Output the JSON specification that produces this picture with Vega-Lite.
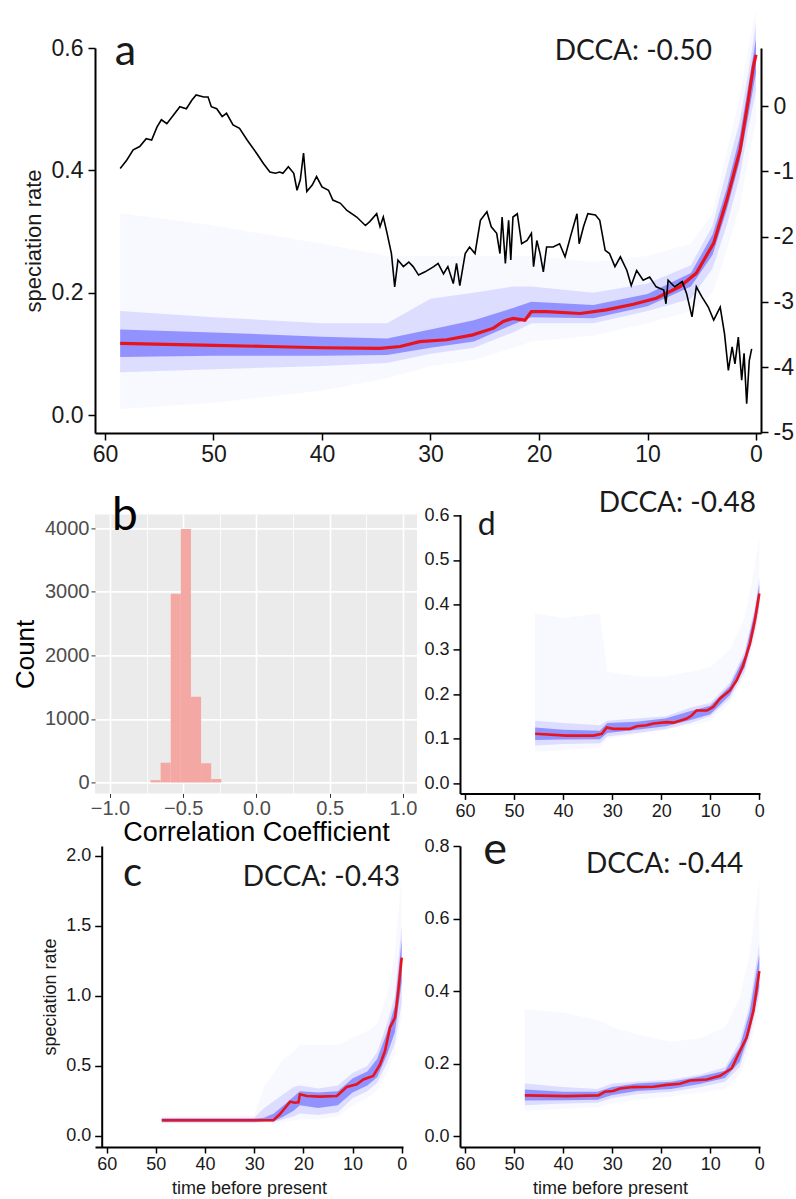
{
"$schema": "https://vega.github.io/schema/vega-lite/v6.json",
"padding": {"left": 12, "top": 11, "right": 0, "bottom": 0},
"background": "white",
"config": {
  "view": {"stroke": null},
  "axis": {"grid": false, "labelFont": "Liberation Sans", "titleFont": "Liberation Sans", "domainColor": "#000", "tickColor": "#000", "labelColor": "#1a1a1a", "titleColor": "#1a1a1a", "titleFontWeight": "normal", "labelFlush": false, "labelOverlap": false, "labelBound": false},
  "text": {"font": "Lato", "color": "#1a1a1a"}
},
"datasets": {
  "aTemp": [
    {"t":58.6,"v":-0.955},{"t":58.0,"v":-0.83},{"t":57.4,"v":-0.67},{"t":56.8,"v":-0.62},{"t":56.2,"v":-0.50},{"t":55.7,"v":-0.52},{"t":55.2,"v":-0.32},{"t":54.8,"v":-0.21},{"t":54.3,"v":-0.27},{"t":53.7,"v":-0.14},{"t":53.1,"v":-0.01},{"t":52.5,"v":-0.04},{"t":52.0,"v":0.09},{"t":51.6,"v":0.17},{"t":50.9,"v":0.14},{"t":50.5,"v":0.14},{"t":50.2,"v":-0.01},{"t":49.7,"v":-0.04},{"t":49.2,"v":-0.16},{"t":48.8,"v":-0.11},{"t":48.2,"v":-0.29},{"t":47.6,"v":-0.34},{"t":46.9,"v":-0.52},{"t":46.0,"v":-0.73},{"t":45.4,"v":-0.88},{"t":44.8,"v":-1.01},{"t":44.3,"v":-1.03},{"t":43.9,"v":-1.01},{"t":43.6,"v":-1.03},{"t":43.1,"v":-0.93},{"t":42.6,"v":-1.03},{"t":42.3,"v":-1.29},{"t":42.0,"v":-1.13},{"t":41.7,"v":-0.72},{"t":41.4,"v":-1.31},{"t":40.9,"v":-1.21},{"t":40.5,"v":-1.08},{"t":40.0,"v":-1.24},{"t":39.4,"v":-1.29},{"t":39.0,"v":-1.44},{"t":38.3,"v":-1.49},{"t":37.7,"v":-1.60},{"t":36.8,"v":-1.70},{"t":36.0,"v":-1.83},{"t":35.6,"v":-1.77},{"t":34.96,"v":-1.65},{"t":34.65,"v":-1.85},{"t":34.35,"v":-1.70},{"t":34.0,"v":-1.95},{"t":33.6,"v":-2.26},{"t":33.3,"v":-2.77},{"t":33.0,"v":-2.36},{"t":32.5,"v":-2.46},{"t":32.0,"v":-2.39},{"t":31.6,"v":-2.46},{"t":31.1,"v":-2.59},{"t":30.5,"v":-2.54},{"t":29.7,"v":-2.46},{"t":29.3,"v":-2.41},{"t":28.8,"v":-2.57},{"t":28.4,"v":-2.46},{"t":27.9,"v":-2.72},{"t":27.6,"v":-2.41},{"t":27.3,"v":-2.75},{"t":26.8,"v":-2.26},{"t":26.4,"v":-2.16},{"t":25.9,"v":-2.26},{"t":25.4,"v":-1.75},{"t":24.8,"v":-1.62},{"t":24.4,"v":-1.85},{"t":23.9,"v":-1.95},{"t":23.6,"v":-2.26},{"t":23.4,"v":-1.70},{"t":23.1,"v":-2.41},{"t":22.8,"v":-1.75},{"t":22.6,"v":-2.36},{"t":22.4,"v":-1.70},{"t":22.0,"v":-1.65},{"t":21.6,"v":-2.11},{"t":21.1,"v":-2.06},{"t":20.7,"v":-1.95},{"t":20.5,"v":-2.46},{"t":20.2,"v":-2.06},{"t":19.9,"v":-2.26},{"t":19.6,"v":-2.54},{"t":19.3,"v":-2.16},{"t":18.7,"v":-2.16},{"t":18.1,"v":-2.11},{"t":17.6,"v":-2.31},{"t":17.1,"v":-2.00},{"t":16.5,"v":-1.65},{"t":16.3,"v":-2.11},{"t":15.9,"v":-1.85},{"t":15.5,"v":-1.65},{"t":14.8,"v":-1.67},{"t":14.4,"v":-1.75},{"t":13.9,"v":-2.21},{"t":13.5,"v":-2.26},{"t":13.0,"v":-2.46},{"t":12.5,"v":-2.31},{"t":11.9,"v":-2.52},{"t":11.5,"v":-2.75},{"t":11.0,"v":-2.52},{"t":10.4,"v":-2.67},{"t":9.8,"v":-2.62},{"t":9.2,"v":-2.77},{"t":8.5,"v":-2.82},{"t":8.3,"v":-3.03},{"t":8.1,"v":-2.67},{"t":7.5,"v":-2.77},{"t":6.8,"v":-2.69},{"t":6.4,"v":-2.87},{"t":5.9,"v":-3.23},{"t":5.5,"v":-2.77},{"t":5.0,"v":-2.92},{"t":4.4,"v":-3.08},{"t":3.9,"v":-3.28},{"t":3.3,"v":-3.08},{"t":2.9,"v":-3.49},{"t":2.55,"v":-4.05},{"t":2.2,"v":-3.69},{"t":1.94,"v":-3.95},{"t":1.63,"v":-3.54},{"t":1.32,"v":-4.20},{"t":1.1,"v":-3.79},{"t":0.86,"v":-4.56},{"t":0.62,"v":-3.90},{"t":0.4,"v":-3.72}
  ],
  "aRate": [
    {"t":58.6,"v":0.117},{"t":50,"v":0.114},{"t":45,"v":0.112},{"t":40,"v":0.110},{"t":34.65,"v":0.109},{"t":32.8,"v":0.112},{"t":31.0,"v":0.120},{"t":28.5,"v":0.123},{"t":26.1,"v":0.131},{"t":24.2,"v":0.142},{"t":23.3,"v":0.153},{"t":22.4,"v":0.158},{"t":21.3,"v":0.155},{"t":20.7,"v":0.169},{"t":19.3,"v":0.169},{"t":16.2,"v":0.166},{"t":13.8,"v":0.172},{"t":11.3,"v":0.181},{"t":9.2,"v":0.191},{"t":7.0,"v":0.210},{"t":5.5,"v":0.232},{"t":3.9,"v":0.281},{"t":2.7,"v":0.351},{"t":1.47,"v":0.433},{"t":0.71,"v":0.515},{"t":0.25,"v":0.569},{"t":0,"v":0.589}
  ],
  "aBand": [
    {"t":58.6,"fl":0.01,"fh":0.33,"ml":0.07,"mh":0.17,"cl":0.095,"ch":0.14},
    {"t":50,"fl":0.02,"fh":0.31,"ml":0.075,"mh":0.16,"cl":0.097,"ch":0.135},
    {"t":40,"fl":0.04,"fh":0.28,"ml":0.08,"mh":0.15,"cl":0.097,"ch":0.128},
    {"t":34,"fl":0.06,"fh":0.26,"ml":0.085,"mh":0.15,"cl":0.098,"ch":0.125},
    {"t":30,"fl":0.08,"fh":0.26,"ml":0.10,"mh":0.19,"cl":0.11,"ch":0.14},
    {"t":26,"fl":0.09,"fh":0.26,"ml":0.11,"mh":0.20,"cl":0.12,"ch":0.155},
    {"t":22.4,"fl":0.11,"fh":0.26,"ml":0.135,"mh":0.21,"cl":0.148,"ch":0.175},
    {"t":20.7,"fl":0.12,"fh":0.26,"ml":0.15,"mh":0.21,"cl":0.16,"ch":0.185},
    {"t":15,"fl":0.13,"fh":0.25,"ml":0.15,"mh":0.20,"cl":0.158,"ch":0.18},
    {"t":10,"fl":0.15,"fh":0.26,"ml":0.17,"mh":0.215,"cl":0.178,"ch":0.198},
    {"t":6,"fl":0.17,"fh":0.28,"ml":0.19,"mh":0.245,"cl":0.21,"ch":0.232},
    {"t":4,"fl":0.2,"fh":0.33,"ml":0.24,"mh":0.31,"cl":0.262,"ch":0.295},
    {"t":2.7,"fl":0.27,"fh":0.43,"ml":0.31,"mh":0.40,"cl":0.335,"ch":0.37},
    {"t":1.5,"fl":0.34,"fh":0.52,"ml":0.39,"mh":0.48,"cl":0.415,"ch":0.455},
    {"t":0.7,"fl":0.42,"fh":0.6,"ml":0.47,"mh":0.56,"cl":0.49,"ch":0.54},
    {"t":0,"fl":0.48,"fh":0.66,"ml":0.53,"mh":0.64,"cl":0.56,"ch":0.615}
  ],
  "hist": [
    {"lo":-0.723,"hi":-0.654,"count":35},
    {"lo":-0.654,"hi":-0.585,"count":310},
    {"lo":-0.585,"hi":-0.516,"count":2970},
    {"lo":-0.516,"hi":-0.447,"count":3990},
    {"lo":-0.447,"hi":-0.378,"count":1350},
    {"lo":-0.378,"hi":-0.309,"count":300},
    {"lo":-0.309,"hi":-0.240,"count":55}
  ],
  "dRate": [
    {"t":45.7,"v":0.111},{"t":39.3,"v":0.107},{"t":33.8,"v":0.107},{"t":32.1,"v":0.111},{"t":31.1,"v":0.125},{"t":29.8,"v":0.122},{"t":26.4,"v":0.122},{"t":25.0,"v":0.128},{"t":23.0,"v":0.130},{"t":21.6,"v":0.134},{"t":18.9,"v":0.137},{"t":17.5,"v":0.136},{"t":14.8,"v":0.145},{"t":13.8,"v":0.152},{"t":12.8,"v":0.163},{"t":10.7,"v":0.163},{"t":9.4,"v":0.171},{"t":8.0,"v":0.190},{"t":6.0,"v":0.208},{"t":4.6,"v":0.231},{"t":3.3,"v":0.264},{"t":1.9,"v":0.313},{"t":0.9,"v":0.365},{"t":0,"v":0.425}
  ],
  "dBand": [
    {"t":45.7,"fl":0.07,"fh":0.38,"ml":0.085,"mh":0.14,"cl":0.097,"ch":0.125},
    {"t":40,"fl":0.075,"fh":0.37,"ml":0.088,"mh":0.135,"cl":0.098,"ch":0.12},
    {"t":32.5,"fl":0.08,"fh":0.38,"ml":0.09,"mh":0.13,"cl":0.099,"ch":0.118},
    {"t":31,"fl":0.1,"fh":0.25,"ml":0.105,"mh":0.14,"cl":0.113,"ch":0.135},
    {"t":25,"fl":0.11,"fh":0.24,"ml":0.113,"mh":0.145,"cl":0.12,"ch":0.138},
    {"t":19,"fl":0.12,"fh":0.24,"ml":0.122,"mh":0.15,"cl":0.128,"ch":0.146},
    {"t":14,"fl":0.13,"fh":0.25,"ml":0.135,"mh":0.17,"cl":0.142,"ch":0.162},
    {"t":10,"fl":0.14,"fh":0.26,"ml":0.15,"mh":0.18,"cl":0.155,"ch":0.174},
    {"t":6,"fl":0.18,"fh":0.3,"ml":0.19,"mh":0.225,"cl":0.198,"ch":0.218},
    {"t":3,"fl":0.24,"fh":0.37,"ml":0.25,"mh":0.295,"cl":0.26,"ch":0.285},
    {"t":1,"fl":0.32,"fh":0.48,"ml":0.335,"mh":0.39,"cl":0.345,"ch":0.38},
    {"t":0,"fl":0.38,"fh":0.55,"ml":0.39,"mh":0.46,"cl":0.405,"ch":0.445}
  ],
  "cRate": [
    {"t":48.8,"v":0.112},{"t":41.0,"v":0.112},{"t":26.1,"v":0.112},{"t":24.8,"v":0.155},{"t":23.7,"v":0.202},{"t":22.7,"v":0.245},{"t":21.7,"v":0.238},{"t":21.0,"v":0.240},{"t":20.7,"v":0.298},{"t":19.3,"v":0.286},{"t":16.6,"v":0.281},{"t":13.2,"v":0.286},{"t":11.2,"v":0.35},{"t":9.15,"v":0.369},{"t":7.8,"v":0.404},{"t":5.8,"v":0.429},{"t":4.4,"v":0.512},{"t":3.4,"v":0.607},{"t":2.4,"v":0.774},{"t":1.36,"v":0.845},{"t":0.69,"v":1.036},{"t":0,"v":1.274}
  ],
  "cBand": [
    {"t":48.8,"fl":0.09,"fh":0.14,"ml":0.095,"mh":0.13,"cl":0.1,"ch":0.125},
    {"t":30,"fl":0.09,"fh":0.15,"ml":0.095,"mh":0.13,"cl":0.1,"ch":0.125},
    {"t":28,"fl":0.09,"fh":0.35,"ml":0.1,"mh":0.2,"cl":0.105,"ch":0.13},
    {"t":26,"fl":0.09,"fh":0.45,"ml":0.1,"mh":0.25,"cl":0.105,"ch":0.16},
    {"t":24,"fl":0.1,"fh":0.55,"ml":0.12,"mh":0.3,"cl":0.14,"ch":0.22},
    {"t":22,"fl":0.11,"fh":0.6,"ml":0.14,"mh":0.35,"cl":0.18,"ch":0.28},
    {"t":20.7,"fl":0.12,"fh":0.65,"ml":0.16,"mh":0.36,"cl":0.22,"ch":0.32},
    {"t":17,"fl":0.12,"fh":0.65,"ml":0.15,"mh":0.34,"cl":0.2,"ch":0.31},
    {"t":13,"fl":0.14,"fh":0.65,"ml":0.17,"mh":0.36,"cl":0.22,"ch":0.32},
    {"t":10,"fl":0.22,"fh":0.7,"ml":0.27,"mh":0.45,"cl":0.31,"ch":0.41},
    {"t":7,"fl":0.27,"fh":0.75,"ml":0.32,"mh":0.5,"cl":0.36,"ch":0.46},
    {"t":5,"fl":0.33,"fh":0.8,"ml":0.38,"mh":0.6,"cl":0.42,"ch":0.55},
    {"t":3,"fl":0.45,"fh":1.0,"ml":0.52,"mh":0.8,"cl":0.58,"ch":0.74},
    {"t":1.4,"fl":0.6,"fh":1.3,"ml":0.66,"mh":1.0,"cl":0.74,"ch":0.93},
    {"t":0,"fl":0.85,"fh":1.85,"ml":0.95,"mh":1.5,"cl":1.1,"ch":1.4}
  ],
  "eRate": [
    {"t":47.8,"v":0.112},{"t":39.3,"v":0.110},{"t":32.8,"v":0.112},{"t":31.5,"v":0.122},{"t":29.8,"v":0.124},{"t":28.4,"v":0.131},{"t":25.7,"v":0.135},{"t":21.6,"v":0.136},{"t":18.9,"v":0.141},{"t":16.2,"v":0.144},{"t":14.1,"v":0.153},{"t":10.7,"v":0.156},{"t":8.0,"v":0.166},{"t":5.6,"v":0.187},{"t":4.3,"v":0.225},{"t":2.6,"v":0.271},{"t":1.2,"v":0.345},{"t":0,"v":0.455}
  ],
  "eBand": [
    {"t":47.8,"fl":0.07,"fh":0.35,"ml":0.085,"mh":0.145,"cl":0.098,"ch":0.128},
    {"t":40,"fl":0.075,"fh":0.34,"ml":0.09,"mh":0.135,"cl":0.099,"ch":0.122},
    {"t":33,"fl":0.08,"fh":0.32,"ml":0.092,"mh":0.13,"cl":0.1,"ch":0.122},
    {"t":30,"fl":0.09,"fh":0.3,"ml":0.105,"mh":0.145,"cl":0.113,"ch":0.135},
    {"t":25,"fl":0.1,"fh":0.28,"ml":0.115,"mh":0.15,"cl":0.124,"ch":0.145},
    {"t":18,"fl":0.11,"fh":0.26,"ml":0.122,"mh":0.155,"cl":0.13,"ch":0.15},
    {"t":12,"fl":0.12,"fh":0.27,"ml":0.135,"mh":0.17,"cl":0.144,"ch":0.164},
    {"t":7,"fl":0.13,"fh":0.3,"ml":0.15,"mh":0.19,"cl":0.16,"ch":0.18},
    {"t":4,"fl":0.17,"fh":0.38,"ml":0.19,"mh":0.26,"cl":0.205,"ch":0.245},
    {"t":2,"fl":0.24,"fh":0.5,"ml":0.27,"mh":0.36,"cl":0.285,"ch":0.34},
    {"t":0,"fl":0.36,"fh":0.7,"ml":0.39,"mh":0.53,"cl":0.41,"ch":0.5}
  ]
},
"spacing": -18,
"vconcat": [
 {
  "spacing": 23.4,
  "vconcat": [
   {
    "width": 666, "height": 385,
    "layer": [
     {
      "layer": [
       {"data": {"name": "aBand"}, "mark": {"type": "area", "color": "#f2f2ff", "opacity": 0.5}, "encoding": {
         "x": {"field": "t", "type": "quantitative", "scale": {"domain": [-0.46, 60.92], "reverse": true, "nice": false, "zero": false}, "axis": {"values": [60,50,40,30,20,10,0], "title": null, "tickSize": 7, "tickWidth": 1.5, "domainWidth": 2, "labelFontSize": 23, "labelPadding": 3}},
         "y": {"field": "fl", "type": "quantitative", "scale": {"domain": [-0.0294, 0.6], "nice": false, "zero": false}, "axis": {"values": [0, 0.2, 0.4, 0.6], "format": ".1f", "title": "speciation rate", "titleFontSize": 22, "titlePadding": 6, "tickSize": 7, "tickWidth": 1.5, "domainWidth": 2, "labelFontSize": 23, "labelPadding": 5}},
         "y2": {"field": "fh"}}},
       {"data": {"name": "aBand"}, "mark": {"type": "area", "color": "#a0a0ff", "opacity": 0.3}, "encoding": {
         "x": {"field": "t", "type": "quantitative", "scale": {"domain": [-0.46, 60.92], "reverse": true, "nice": false, "zero": false}, "axis": {"values": [60,50,40,30,20,10,0], "title": null, "tickSize": 7, "tickWidth": 1.5, "domainWidth": 2, "labelFontSize": 23, "labelPadding": 3}},
         "y": {"field": "ml", "type": "quantitative", "scale": {"domain": [-0.0294, 0.6], "nice": false, "zero": false}, "axis": {"values": [0, 0.2, 0.4, 0.6], "format": ".1f", "title": "speciation rate", "titleFontSize": 22, "titlePadding": 6, "tickSize": 7, "tickWidth": 1.5, "domainWidth": 2, "labelFontSize": 23, "labelPadding": 5}},
         "y2": {"field": "mh"}}},
       {"data": {"name": "aBand"}, "mark": {"type": "area", "color": "#4848ff", "opacity": 0.5}, "encoding": {
         "x": {"field": "t", "type": "quantitative", "scale": {"domain": [-0.46, 60.92], "reverse": true, "nice": false, "zero": false}, "axis": {"values": [60,50,40,30,20,10,0], "title": null, "tickSize": 7, "tickWidth": 1.5, "domainWidth": 2, "labelFontSize": 23, "labelPadding": 3}},
         "y": {"field": "cl", "type": "quantitative", "scale": {"domain": [-0.0294, 0.6], "nice": false, "zero": false}, "axis": {"values": [0, 0.2, 0.4, 0.6], "format": ".1f", "title": "speciation rate", "titleFontSize": 22, "titlePadding": 6, "tickSize": 7, "tickWidth": 1.5, "domainWidth": 2, "labelFontSize": 23, "labelPadding": 5}},
         "y2": {"field": "ch"}}},
       {"data": {"name": "aRate"}, "mark": {"type": "line", "color": "#e8141c", "strokeWidth": 3.2}, "encoding": {
         "x": {"field": "t", "type": "quantitative", "scale": {"domain": [-0.46, 60.92], "reverse": true, "nice": false, "zero": false}, "axis": {"values": [60,50,40,30,20,10,0], "title": null, "tickSize": 7, "tickWidth": 1.5, "domainWidth": 2, "labelFontSize": 23, "labelPadding": 3}},
         "y": {"field": "v", "type": "quantitative", "scale": {"domain": [-0.0294, 0.6], "nice": false, "zero": false}, "axis": {"values": [0, 0.2, 0.4, 0.6], "format": ".1f", "title": "speciation rate", "titleFontSize": 22, "titlePadding": 6, "tickSize": 7, "tickWidth": 1.5, "domainWidth": 2, "labelFontSize": 23, "labelPadding": 5}}}},
       {"data": {"values": [{}]}, "mark": {"type": "text", "text": "a", "fontSize": 43, "align": "left", "baseline": "alphabetic"}, "encoding": {
         "x": {"datum": 59.1, "type": "quantitative", "scale": {"domain": [-0.46, 60.92], "reverse": true, "nice": false, "zero": false}, "axis": {"values": [60,50,40,30,20,10,0], "title": null, "tickSize": 7, "tickWidth": 1.5, "domainWidth": 2, "labelFontSize": 23, "labelPadding": 3}},
         "y": {"datum": 0.572, "type": "quantitative", "scale": {"domain": [-0.0294, 0.6], "nice": false, "zero": false}, "axis": {"values": [0, 0.2, 0.4, 0.6], "format": ".1f", "title": "speciation rate", "titleFontSize": 22, "titlePadding": 6, "tickSize": 7, "tickWidth": 1.5, "domainWidth": 2, "labelFontSize": 23, "labelPadding": 5}}}},
       {"data": {"values": [{}]}, "mark": {"type": "text", "text": "DCCA: -0.50", "fontSize": 28, "align": "right", "baseline": "alphabetic"}, "encoding": {
         "x": {"datum": 4.06, "type": "quantitative", "scale": {"domain": [-0.46, 60.92], "reverse": true, "nice": false, "zero": false}, "axis": {"values": [60,50,40,30,20,10,0], "title": null, "tickSize": 7, "tickWidth": 1.5, "domainWidth": 2, "labelFontSize": 23, "labelPadding": 3}},
         "y": {"datum": 0.58, "type": "quantitative", "scale": {"domain": [-0.0294, 0.6], "nice": false, "zero": false}, "axis": {"values": [0, 0.2, 0.4, 0.6], "format": ".1f", "title": "speciation rate", "titleFontSize": 22, "titlePadding": 6, "tickSize": 7, "tickWidth": 1.5, "domainWidth": 2, "labelFontSize": 23, "labelPadding": 5}}}}
      ]
     },
     {"data": {"name": "aTemp"}, "mark": {"type": "line", "color": "#000", "strokeWidth": 1.6}, "encoding": {
       "x": {"field": "t", "type": "quantitative", "scale": {"domain": [-0.46, 60.92], "reverse": true, "nice": false, "zero": false}, "axis": {"values": [60,50,40,30,20,10,0], "title": null, "tickSize": 7, "tickWidth": 1.5, "domainWidth": 2, "labelFontSize": 23, "labelPadding": 3}},
       "y": {"field": "v", "type": "quantitative", "scale": {"domain": [-5.01, 0.89], "nice": false, "zero": false}, "axis": {"orient": "right", "values": [0,-1,-2,-3,-4,-5], "labelExpr": "'' + datum.value", "title": null, "tickSize": 7, "tickWidth": 1.5, "domainWidth": 2, "labelFontSize": 23, "labelPadding": 5}}}}
    ],
    "resolve": {"scale": {"y": "independent"}}
   },
   {
    "bounds": "flush",
    "spacing": 43,
    "hconcat": [
     {
      "width": 322, "height": 279,
      "view": {"fill": "#EBEBEB", "stroke": null},
      "layer": [
       {"data": {"name": "hist"}, "mark": {"type": "bar", "color": "#F4A8A4"}, "encoding": {
         "x": {"field": "lo", "type": "quantitative", "scale": {"domain": [-1.102, 1.096], "nice": false, "zero": false}, "axis": {"values": [-1,-0.75,-0.5,-0.25,0,0.25,0.5,0.75,1], "format": ".1f", "labelExpr": "abs(datum.value*2 - round(datum.value*2)) > 0.001 ? '' : datum.label", "grid": true, "gridColor": "#ffffff", "gridWidth": {"condition": {"test": "abs(datum.value*2 - round(datum.value*2)) > 0.001", "value": 0.8}, "value": 1.6}, "domain": false, "tickColor": "#333333", "tickSize": 4, "tickOpacity": {"condition": {"test": "abs(datum.value*2 - round(datum.value*2)) > 0.001", "value": 0}, "value": 1}, "labelColor": "#4D4D4D", "labelFontSize": 20, "labelPadding": 1, "title": "Correlation Coefficient", "titleFontSize": 27, "titlePadding": 1, "titleColor": "#000"}},
         "x2": {"field": "hi"},
         "y": {"field": "count", "type": "quantitative", "scale": {"domain": [-173, 4220], "nice": false, "zero": false}, "axis": {"values": [0,500,1000,1500,2000,2500,3000,3500,4000], "format": "d", "labelExpr": "datum.value % 1000 != 0 ? '' : datum.label", "grid": true, "gridColor": "#ffffff", "gridWidth": {"condition": {"test": "datum.value % 1000 != 0", "value": 0.8}, "value": 1.6}, "domain": false, "tickColor": "#333333", "tickSize": 4, "tickOpacity": {"condition": {"test": "datum.value % 1000 != 0", "value": 0}, "value": 1}, "labelColor": "#4D4D4D", "labelFontSize": 20, "labelPadding": 2, "title": "Count", "titleFontSize": 26, "titlePadding": 6, "titleColor": "#000"}},
         "y2": {"datum": 0}
       }},
       {"data": {"values": [{}]}, "mark": {"type": "text", "text": "b", "fontSize": 46, "align": "left", "baseline": "alphabetic", "color": "#000"}, "encoding": {"x": {"datum": -0.986, "type": "quantitative"}, "y": {"datum": 3968, "type": "quantitative"}}}
      ]
     },
     {
      "width": 300, "height": 279,
      "layer": [
       {"data": {"name": "dBand"}, "mark": {"type": "area", "color": "#f2f2ff", "opacity": 0.5}, "encoding": {
         "x": {"field": "t", "type": "quantitative", "scale": {"domain": [-0.14, 61.02], "reverse": true, "nice": false, "zero": false}, "axis": {"values": [60,50,40,30,20,10,0], "title": null, "tickSize": 6, "tickWidth": 1.5, "domainWidth": 2, "labelFontSize": 18, "labelPadding": 3}},
         "y": {"field": "fl", "type": "quantitative", "scale": {"domain": [-0.0224, 0.602], "nice": false, "zero": false}, "axis": {"values": [0,0.1,0.2,0.3,0.4,0.5,0.6], "format": ".1f", "title": null, "tickSize": 7, "tickWidth": 1.5, "domainWidth": 2, "labelFontSize": 18, "labelPadding": 4}},
         "y2": {"field": "fh"}}},
       {"data": {"name": "dBand"}, "mark": {"type": "area", "color": "#a0a0ff", "opacity": 0.3}, "encoding": {
         "x": {"field": "t", "type": "quantitative", "scale": {"domain": [-0.14, 61.02], "reverse": true, "nice": false, "zero": false}, "axis": {"values": [60,50,40,30,20,10,0], "title": null, "tickSize": 6, "tickWidth": 1.5, "domainWidth": 2, "labelFontSize": 18, "labelPadding": 3}},
         "y": {"field": "ml", "type": "quantitative", "scale": {"domain": [-0.0224, 0.602], "nice": false, "zero": false}, "axis": {"values": [0,0.1,0.2,0.3,0.4,0.5,0.6], "format": ".1f", "title": null, "tickSize": 7, "tickWidth": 1.5, "domainWidth": 2, "labelFontSize": 18, "labelPadding": 4}},
         "y2": {"field": "mh"}}},
       {"data": {"name": "dBand"}, "mark": {"type": "area", "color": "#4848ff", "opacity": 0.5}, "encoding": {
         "x": {"field": "t", "type": "quantitative", "scale": {"domain": [-0.14, 61.02], "reverse": true, "nice": false, "zero": false}, "axis": {"values": [60,50,40,30,20,10,0], "title": null, "tickSize": 6, "tickWidth": 1.5, "domainWidth": 2, "labelFontSize": 18, "labelPadding": 3}},
         "y": {"field": "cl", "type": "quantitative", "scale": {"domain": [-0.0224, 0.602], "nice": false, "zero": false}, "axis": {"values": [0,0.1,0.2,0.3,0.4,0.5,0.6], "format": ".1f", "title": null, "tickSize": 7, "tickWidth": 1.5, "domainWidth": 2, "labelFontSize": 18, "labelPadding": 4}},
         "y2": {"field": "ch"}}},
       {"data": {"name": "dRate"}, "mark": {"type": "line", "color": "#e8141c", "strokeWidth": 2.6}, "encoding": {
         "x": {"field": "t", "type": "quantitative", "scale": {"domain": [-0.14, 61.02], "reverse": true, "nice": false, "zero": false}, "axis": {"values": [60,50,40,30,20,10,0], "title": null, "tickSize": 6, "tickWidth": 1.5, "domainWidth": 2, "labelFontSize": 18, "labelPadding": 3}},
         "y": {"field": "v", "type": "quantitative", "scale": {"domain": [-0.0224, 0.602], "nice": false, "zero": false}, "axis": {"values": [0,0.1,0.2,0.3,0.4,0.5,0.6], "format": ".1f", "title": null, "tickSize": 7, "tickWidth": 1.5, "domainWidth": 2, "labelFontSize": 18, "labelPadding": 4}}}},
       {"data": {"values": [{}]}, "mark": {"type": "text", "text": "d", "fontSize": 32, "align": "left", "baseline": "alphabetic"}, "encoding": {
         "x": {"datum": 57.4, "type": "quantitative", "scale": {"domain": [-0.14, 61.02], "reverse": true, "nice": false, "zero": false}, "axis": {"values": [60,50,40,30,20,10,0], "title": null, "tickSize": 6, "tickWidth": 1.5, "domainWidth": 2, "labelFontSize": 18, "labelPadding": 3}},
         "y": {"datum": 0.555, "type": "quantitative", "scale": {"domain": [-0.0224, 0.602], "nice": false, "zero": false}, "axis": {"values": [0,0.1,0.2,0.3,0.4,0.5,0.6], "format": ".1f", "title": null, "tickSize": 7, "tickWidth": 1.5, "domainWidth": 2, "labelFontSize": 18, "labelPadding": 4}}}},
       {"data": {"values": [{}]}, "mark": {"type": "text", "text": "DCCA: -0.48", "fontSize": 28, "align": "right", "baseline": "alphabetic"}, "encoding": {
         "x": {"datum": 0.68, "type": "quantitative", "scale": {"domain": [-0.14, 61.02], "reverse": true, "nice": false, "zero": false}, "axis": {"values": [60,50,40,30,20,10,0], "title": null, "tickSize": 6, "tickWidth": 1.5, "domainWidth": 2, "labelFontSize": 18, "labelPadding": 3}},
         "y": {"datum": 0.607, "type": "quantitative", "scale": {"domain": [-0.0224, 0.602], "nice": false, "zero": false}, "axis": {"values": [0,0.1,0.2,0.3,0.4,0.5,0.6], "format": ".1f", "title": null, "tickSize": 7, "tickWidth": 1.5, "domainWidth": 2, "labelFontSize": 18, "labelPadding": 4}}}}
      ]
     }
    ]
   }
  ]
 },
 {
  "bounds": "flush",
  "spacing": 57,
  "hconcat": [
   {
    "width": 308, "height": 301,
    "layer": [
     {"data": {"name": "cBand"}, "mark": {"type": "area", "color": "#f2f2ff", "opacity": 0.5}, "encoding": {
       "x": {"field": "t", "type": "quantitative", "scale": {"domain": [-0.26, 62.38], "reverse": true, "nice": false, "zero": false}, "axis": {"values": [60,50,40,30,20,10,0], "title": "time before present", "titleFontSize": 18, "titlePadding": 6, "tickSize": 6, "tickWidth": 1.5, "domainWidth": 2, "labelFontSize": 18, "labelPadding": 2}},
       "y": {"field": "fl", "type": "quantitative", "scale": {"domain": [-0.0786, 2.0714], "nice": false, "zero": false}, "axis": {"values": [0,0.5,1,1.5,2], "format": ".1f", "title": "speciation rate", "titleFontSize": 18, "titlePadding": 6, "offset": -6.7, "tickSize": 7, "tickWidth": 1.5, "domainWidth": 2, "labelFontSize": 18, "labelPadding": 4}},
       "y2": {"field": "fh"}}},
     {"data": {"name": "cBand"}, "mark": {"type": "area", "color": "#a0a0ff", "opacity": 0.3}, "encoding": {
       "x": {"field": "t", "type": "quantitative", "scale": {"domain": [-0.26, 62.38], "reverse": true, "nice": false, "zero": false}, "axis": {"values": [60,50,40,30,20,10,0], "title": "time before present", "titleFontSize": 18, "titlePadding": 6, "tickSize": 6, "tickWidth": 1.5, "domainWidth": 2, "labelFontSize": 18, "labelPadding": 2}},
       "y": {"field": "ml", "type": "quantitative", "scale": {"domain": [-0.0786, 2.0714], "nice": false, "zero": false}, "axis": {"values": [0,0.5,1,1.5,2], "format": ".1f", "title": "speciation rate", "titleFontSize": 18, "titlePadding": 6, "offset": -6.7, "tickSize": 7, "tickWidth": 1.5, "domainWidth": 2, "labelFontSize": 18, "labelPadding": 4}},
       "y2": {"field": "mh"}}},
     {"data": {"name": "cBand"}, "mark": {"type": "area", "color": "#4848ff", "opacity": 0.5}, "encoding": {
       "x": {"field": "t", "type": "quantitative", "scale": {"domain": [-0.26, 62.38], "reverse": true, "nice": false, "zero": false}, "axis": {"values": [60,50,40,30,20,10,0], "title": "time before present", "titleFontSize": 18, "titlePadding": 6, "tickSize": 6, "tickWidth": 1.5, "domainWidth": 2, "labelFontSize": 18, "labelPadding": 2}},
       "y": {"field": "cl", "type": "quantitative", "scale": {"domain": [-0.0786, 2.0714], "nice": false, "zero": false}, "axis": {"values": [0,0.5,1,1.5,2], "format": ".1f", "title": "speciation rate", "titleFontSize": 18, "titlePadding": 6, "offset": -6.7, "tickSize": 7, "tickWidth": 1.5, "domainWidth": 2, "labelFontSize": 18, "labelPadding": 4}},
       "y2": {"field": "ch"}}},
     {"data": {"name": "cRate"}, "mark": {"type": "line", "color": "#e8141c", "strokeWidth": 2.6}, "encoding": {
       "x": {"field": "t", "type": "quantitative", "scale": {"domain": [-0.26, 62.38], "reverse": true, "nice": false, "zero": false}, "axis": {"values": [60,50,40,30,20,10,0], "title": "time before present", "titleFontSize": 18, "titlePadding": 6, "tickSize": 6, "tickWidth": 1.5, "domainWidth": 2, "labelFontSize": 18, "labelPadding": 2}},
       "y": {"field": "v", "type": "quantitative", "scale": {"domain": [-0.0786, 2.0714], "nice": false, "zero": false}, "axis": {"values": [0,0.5,1,1.5,2], "format": ".1f", "title": "speciation rate", "titleFontSize": 18, "titlePadding": 6, "offset": -6.7, "tickSize": 7, "tickWidth": 1.5, "domainWidth": 2, "labelFontSize": 18, "labelPadding": 4}}}},
     {"data": {"values": [{}]}, "mark": {"type": "text", "text": "c", "fontSize": 40, "align": "left", "baseline": "alphabetic"}, "encoding": {
       "x": {"datum": 56.7, "type": "quantitative", "scale": {"domain": [-0.26, 62.38], "reverse": true, "nice": false, "zero": false}, "axis": {"values": [60,50,40,30,20,10,0], "title": "time before present", "titleFontSize": 18, "titlePadding": 6, "tickSize": 6, "tickWidth": 1.5, "domainWidth": 2, "labelFontSize": 18, "labelPadding": 2}},
       "y": {"datum": 1.786, "type": "quantitative", "scale": {"domain": [-0.0786, 2.0714], "nice": false, "zero": false}, "axis": {"values": [0,0.5,1,1.5,2], "format": ".1f", "title": "speciation rate", "titleFontSize": 18, "titlePadding": 6, "offset": -6.7, "tickSize": 7, "tickWidth": 1.5, "domainWidth": 2, "labelFontSize": 18, "labelPadding": 4}}}},
     {"data": {"values": [{}]}, "mark": {"type": "text", "text": "DCCA: -0.43", "fontSize": 28, "align": "right", "baseline": "alphabetic"}, "encoding": {
       "x": {"datum": 0.35, "type": "quantitative", "scale": {"domain": [-0.26, 62.38], "reverse": true, "nice": false, "zero": false}, "axis": {"values": [60,50,40,30,20,10,0], "title": "time before present", "titleFontSize": 18, "titlePadding": 6, "tickSize": 6, "tickWidth": 1.5, "domainWidth": 2, "labelFontSize": 18, "labelPadding": 2}},
       "y": {"datum": 1.786, "type": "quantitative", "scale": {"domain": [-0.0786, 2.0714], "nice": false, "zero": false}, "axis": {"values": [0,0.5,1,1.5,2], "format": ".1f", "title": "speciation rate", "titleFontSize": 18, "titlePadding": 6, "offset": -6.7, "tickSize": 7, "tickWidth": 1.5, "domainWidth": 2, "labelFontSize": 18, "labelPadding": 4}}}}
    ]
   },
   {
    "width": 300, "height": 301,
    "layer": [
     {"data": {"name": "eBand"}, "mark": {"type": "area", "color": "#f2f2ff", "opacity": 0.5}, "encoding": {
       "x": {"field": "t", "type": "quantitative", "scale": {"domain": [-0.14, 61.02], "reverse": true, "nice": false, "zero": false}, "axis": {"values": [60,50,40,30,20,10,0], "title": "time before present", "titleFontSize": 18, "titlePadding": 6, "tickSize": 6, "tickWidth": 1.5, "domainWidth": 2, "labelFontSize": 18, "labelPadding": 2}},
       "y": {"field": "fl", "type": "quantitative", "scale": {"domain": [-0.0303, 0.8], "nice": false, "zero": false}, "axis": {"values": [0,0.2,0.4,0.6,0.8], "format": ".1f", "title": null, "tickSize": 7, "tickWidth": 1.5, "domainWidth": 2, "labelFontSize": 18, "labelPadding": 4}},
       "y2": {"field": "fh"}}},
     {"data": {"name": "eBand"}, "mark": {"type": "area", "color": "#a0a0ff", "opacity": 0.3}, "encoding": {
       "x": {"field": "t", "type": "quantitative", "scale": {"domain": [-0.14, 61.02], "reverse": true, "nice": false, "zero": false}, "axis": {"values": [60,50,40,30,20,10,0], "title": "time before present", "titleFontSize": 18, "titlePadding": 6, "tickSize": 6, "tickWidth": 1.5, "domainWidth": 2, "labelFontSize": 18, "labelPadding": 2}},
       "y": {"field": "ml", "type": "quantitative", "scale": {"domain": [-0.0303, 0.8], "nice": false, "zero": false}, "axis": {"values": [0,0.2,0.4,0.6,0.8], "format": ".1f", "title": null, "tickSize": 7, "tickWidth": 1.5, "domainWidth": 2, "labelFontSize": 18, "labelPadding": 4}},
       "y2": {"field": "mh"}}},
     {"data": {"name": "eBand"}, "mark": {"type": "area", "color": "#4848ff", "opacity": 0.5}, "encoding": {
       "x": {"field": "t", "type": "quantitative", "scale": {"domain": [-0.14, 61.02], "reverse": true, "nice": false, "zero": false}, "axis": {"values": [60,50,40,30,20,10,0], "title": "time before present", "titleFontSize": 18, "titlePadding": 6, "tickSize": 6, "tickWidth": 1.5, "domainWidth": 2, "labelFontSize": 18, "labelPadding": 2}},
       "y": {"field": "cl", "type": "quantitative", "scale": {"domain": [-0.0303, 0.8], "nice": false, "zero": false}, "axis": {"values": [0,0.2,0.4,0.6,0.8], "format": ".1f", "title": null, "tickSize": 7, "tickWidth": 1.5, "domainWidth": 2, "labelFontSize": 18, "labelPadding": 4}},
       "y2": {"field": "ch"}}},
     {"data": {"name": "eRate"}, "mark": {"type": "line", "color": "#e8141c", "strokeWidth": 2.6}, "encoding": {
       "x": {"field": "t", "type": "quantitative", "scale": {"domain": [-0.14, 61.02], "reverse": true, "nice": false, "zero": false}, "axis": {"values": [60,50,40,30,20,10,0], "title": "time before present", "titleFontSize": 18, "titlePadding": 6, "tickSize": 6, "tickWidth": 1.5, "domainWidth": 2, "labelFontSize": 18, "labelPadding": 2}},
       "y": {"field": "v", "type": "quantitative", "scale": {"domain": [-0.0303, 0.8], "nice": false, "zero": false}, "axis": {"values": [0,0.2,0.4,0.6,0.8], "format": ".1f", "title": null, "tickSize": 7, "tickWidth": 1.5, "domainWidth": 2, "labelFontSize": 18, "labelPadding": 4}}}},
     {"data": {"values": [{}]}, "mark": {"type": "text", "text": "e", "fontSize": 45, "align": "left", "baseline": "alphabetic"}, "encoding": {
       "x": {"datum": 56.3, "type": "quantitative", "scale": {"domain": [-0.14, 61.02], "reverse": true, "nice": false, "zero": false}, "axis": {"values": [60,50,40,30,20,10,0], "title": "time before present", "titleFontSize": 18, "titlePadding": 6, "tickSize": 6, "tickWidth": 1.5, "domainWidth": 2, "labelFontSize": 18, "labelPadding": 2}},
       "y": {"datum": 0.75, "type": "quantitative", "scale": {"domain": [-0.0303, 0.8], "nice": false, "zero": false}, "axis": {"values": [0,0.2,0.4,0.6,0.8], "format": ".1f", "title": null, "tickSize": 7, "tickWidth": 1.5, "domainWidth": 2, "labelFontSize": 18, "labelPadding": 4}}}},
     {"data": {"values": [{}]}, "mark": {"type": "text", "text": "DCCA: -0.44", "fontSize": 28, "align": "right", "baseline": "alphabetic"}, "encoding": {
       "x": {"datum": 3.3, "type": "quantitative", "scale": {"domain": [-0.14, 61.02], "reverse": true, "nice": false, "zero": false}, "axis": {"values": [60,50,40,30,20,10,0], "title": "time before present", "titleFontSize": 18, "titlePadding": 6, "tickSize": 6, "tickWidth": 1.5, "domainWidth": 2, "labelFontSize": 18, "labelPadding": 2}},
       "y": {"datum": 0.726, "type": "quantitative", "scale": {"domain": [-0.0303, 0.8], "nice": false, "zero": false}, "axis": {"values": [0,0.2,0.4,0.6,0.8], "format": ".1f", "title": null, "tickSize": 7, "tickWidth": 1.5, "domainWidth": 2, "labelFontSize": 18, "labelPadding": 4}}}}
    ]
   }
  ]
 }
]
}
